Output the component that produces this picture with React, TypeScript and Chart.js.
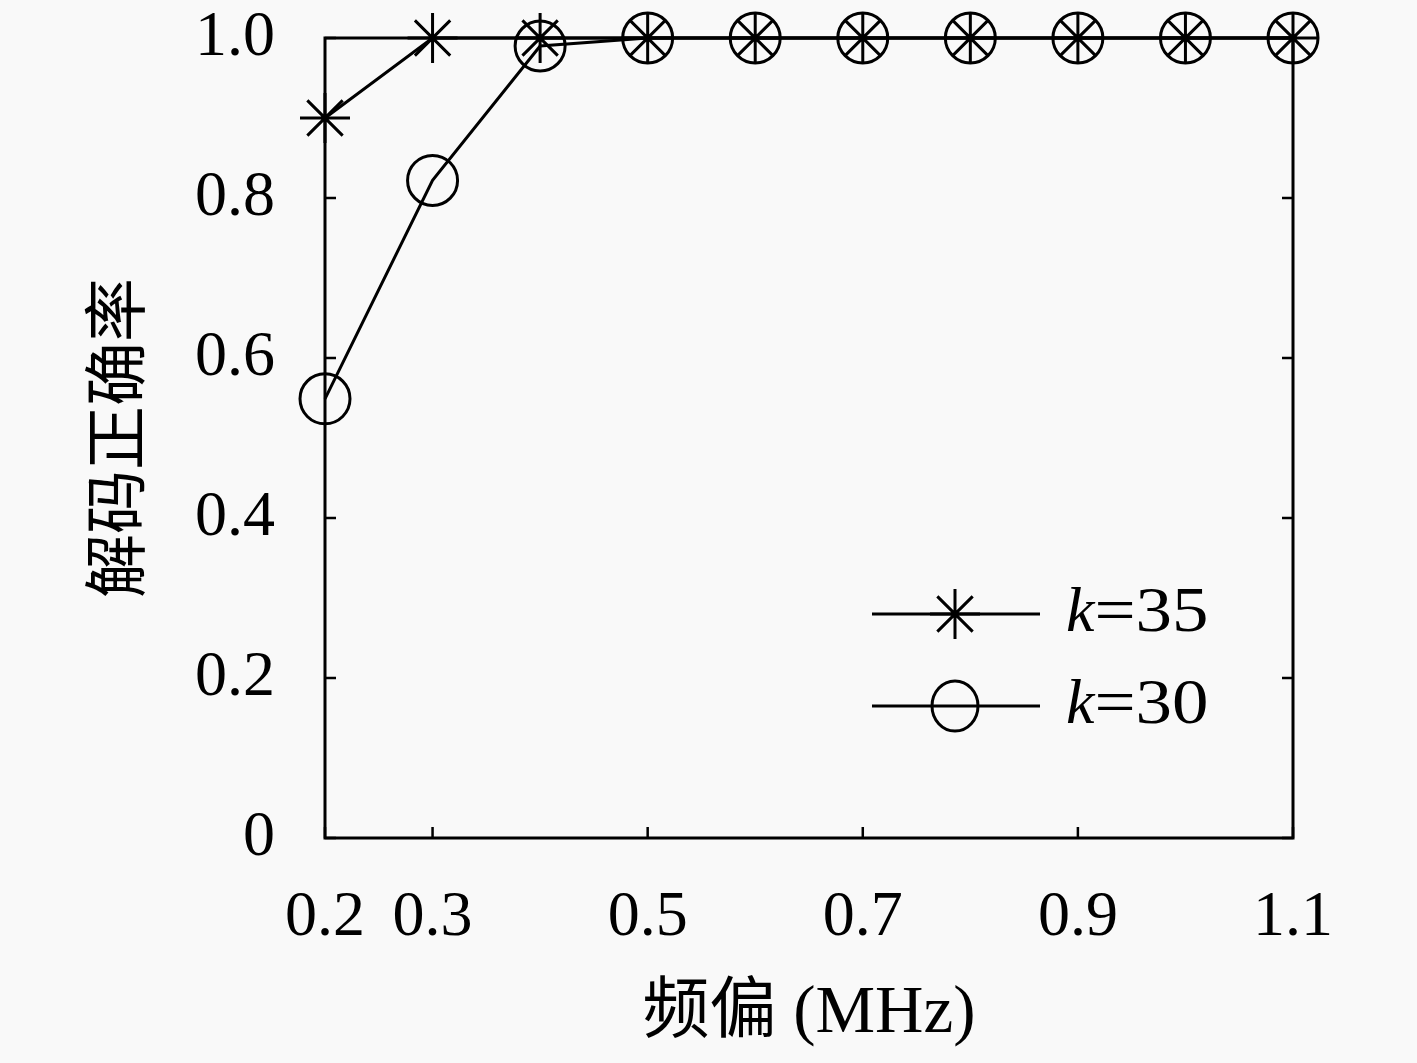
import React, { useEffect, useRef } from "react";
import { Chart, registerables } from "chart.js";

Chart.register(...registerables);

const xValues = [0.2, 0.3, 0.4, 0.5, 0.6, 0.7, 0.8, 0.9, 1.0, 1.1];
const k35Values = [0.9, 1.0, 1.0, 1.0, 1.0, 1.0, 1.0, 1.0, 1.0, 1.0];
const k30Values = [0.549, 0.822, 0.99, 1.0, 1.0, 1.0, 1.0, 1.0, 1.0, 1.0];
const xTickValues = [0.2, 0.3, 0.5, 0.7, 0.9, 1.1];
const yTickValues = [0, 0.2, 0.4, 0.6, 0.8, 1.0];
const seriesLabels = ["k=35", "k=30"];
const xTitle = "频偏 (MHz)";
const yTitle = "解码正确率";

const SERIF = "'Liberation Serif', 'Noto Sans CJK SC', serif";
const BG = "#f9f9f9";
const LW = 3;

function drawMarker(ctx: CanvasRenderingContext2D, style: string, x: number, y: number, r: number) {
  ctx.save();
  ctx.strokeStyle = "#000";
  ctx.lineWidth = LW;
  ctx.beginPath();
  if (style === "star") {
    ctx.moveTo(x - r, y); ctx.lineTo(x + r, y);
    ctx.moveTo(x, y - r); ctx.lineTo(x, y + r);
    const d = r * Math.SQRT1_2;
    ctx.moveTo(x - d, y - d); ctx.lineTo(x + d, y + d);
    ctx.moveTo(x - d, y + d); ctx.lineTo(x + d, y - d);
  } else {
    ctx.ellipse(x, y, r * 0.92, r, 0, 0, Math.PI * 2);
  }
  ctx.stroke();
  ctx.restore();
}

const framePlugin = {
  id: "frame",
  beforeDraw(chart: any) {
    const ctx = chart.ctx;
    ctx.save();
    ctx.fillStyle = BG;
    ctx.fillRect(0, 0, chart.width, chart.height);
    ctx.restore();
  },
  beforeDatasetsDraw(chart: any) {
    const { ctx, chartArea } = chart;
    const { left, right, top, bottom } = chartArea;
    const xs = chart.scales.x;
    const ys = chart.scales.y;
    ctx.save();
    ctx.strokeStyle = "#000";
    ctx.lineWidth = LW;
    ctx.strokeRect(left, top, right - left, bottom - top);
    ctx.lineWidth = 2.5;
    const tl = 11;
    ctx.beginPath();
    xTickValues.forEach((v) => {
      const px = xs.getPixelForValue(v);
      ctx.moveTo(px, bottom);
      ctx.lineTo(px, bottom - tl);
    });
    yTickValues.forEach((v) => {
      const py = ys.getPixelForValue(v);
      ctx.moveTo(left, py);
      ctx.lineTo(left + tl, py);
      ctx.moveTo(right, py);
      ctx.lineTo(right - tl, py);
    });
    ctx.stroke();
    ctx.restore();
  },
  afterDraw(chart: any) {
    const ctx = chart.ctx;
    const styles = ["star", "circle"];
    const ys = [614, 706];
    ctx.save();
    styles.forEach((s, i) => {
      const y = ys[i];
      ctx.strokeStyle = "#000";
      ctx.lineWidth = LW;
      ctx.beginPath();
      ctx.moveTo(872, y);
      ctx.lineTo(1040, y);
      ctx.stroke();
      drawMarker(ctx, s, 955, y, 25);
      ctx.fillStyle = "#000";
      ctx.textBaseline = "middle";
      ctx.textAlign = "left";
      const [kPart, rest] = seriesLabels[i].split("=");
      ctx.font = `italic 64px ${SERIF}`;
      ctx.fillText(kPart, 1066, y);
      const w = ctx.measureText(kPart).width;
      ctx.font = `64px ${SERIF}`;
      ctx.save();
      ctx.translate(1066 + w, y);
      ctx.scale(1.14, 1);
      ctx.fillText("=" + rest, 0, 0);
      ctx.restore();
    });
    ctx.restore();
  },
};

export default function App() {
  const ref = useRef<HTMLCanvasElement>(null);
  useEffect(() => {
    document.body.style.margin = "0";
    document.body.style.background = BG;
    const canvas = ref.current!;
    const chart = new Chart(canvas, {
      type: "line",
      data: {
        datasets: [
          {
            label: seriesLabels[0],
            data: xValues.map((x, i) => ({ x, y: k35Values[i] })),
            borderColor: "#000",
            backgroundColor: "transparent",
            borderWidth: LW,
            pointStyle: "star",
            pointRadius: 25,
            pointBorderWidth: LW,
            pointBorderColor: "#000",
            clip: false,
          },
          {
            label: seriesLabels[1],
            data: xValues.map((x, i) => ({ x, y: k30Values[i] })),
            borderColor: "#000",
            backgroundColor: "transparent",
            borderWidth: LW,
            pointStyle: "circle",
            pointRadius: 25,
            pointBorderWidth: LW,
            pointBorderColor: "#000",
            pointBackgroundColor: "transparent",
            clip: false,
          },
        ],
      },
      options: {
        animation: false,
        responsive: false,
        devicePixelRatio: 1,
        layout: { padding: { top: 38, right: 124, left: 0, bottom: 0 } },
        plugins: { legend: { display: false }, tooltip: { enabled: false } },
        scales: {
          x: {
            type: "linear",
            min: 0.2,
            max: 1.1,
            grid: { display: false },
            border: { display: false },
            afterBuildTicks: (scale: any) => {
              scale.ticks = xTickValues.map((v) => ({ value: v }));
            },
            afterFit: (scale: any) => {
              scale.height = 225;
              scale.paddingLeft = 0;
              scale.paddingRight = 0;
            },
            ticks: {
              color: "#000",
              padding: 34,
              maxRotation: 0,
              autoSkip: false,
              font: { family: SERIF, size: 64 },
              callback: (v: any) => Number(v).toFixed(1),
            },
            title: {
              display: true,
              text: xTitle,
              color: "#000",
              font: { family: SERIF, size: 67 },
              padding: { top: 0, bottom: 8 },
            },
          },
          y: {
            type: "linear",
            min: 0,
            max: 1,
            grid: { display: false },
            border: { display: false },
            afterBuildTicks: (scale: any) => {
              scale.ticks = yTickValues.map((v) => ({ value: v }));
            },
            afterFit: (scale: any) => {
              scale.width = 325;
              scale.paddingTop = 0;
              scale.paddingBottom = 0;
            },
            ticks: {
              color: "#000",
              padding: 42,
              font: { family: SERIF, size: 64 },
              callback: (v: any) => (Number(v) === 0 ? "0" : Number(v).toFixed(1)),
            },
            title: {
              display: true,
              text: yTitle,
              color: "#000",
              font: { family: SERIF, size: 64 },
              padding: { top: 84, bottom: 0 },
            },
          },
        },
      },
      plugins: [framePlugin],
    });
    return () => chart.destroy();
  }, []);
  return (
    <div style={{ position: "fixed", left: 0, top: 0, width: 1417, height: 1063 }}>
      <canvas ref={ref} width={1417} height={1063} />
    </div>
  );
}
